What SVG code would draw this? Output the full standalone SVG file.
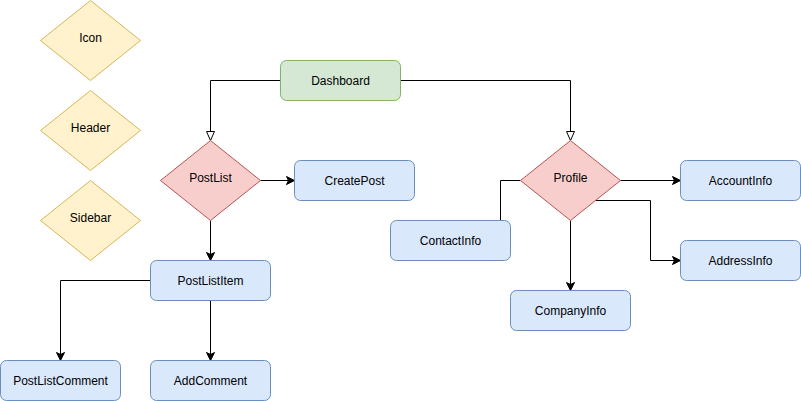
<svg xmlns="http://www.w3.org/2000/svg" width="801" height="401" viewBox="0 0 801 401">
<style>
.y{fill:#fff2cc;stroke:#d6b656}
.g{fill:#d5e8d4;stroke:#82b366}
.r{fill:#f8cecc;stroke:#b85450}
.b{fill:#dae8fc;stroke:#6c8ebf}
text{font-family:"Liberation Sans",Arial,sans-serif;font-size:12px;fill:#000;text-anchor:middle}
.c{fill:none;stroke:#000;stroke-width:1}
</style>
<defs>
<marker id="cl" markerUnits="userSpaceOnUse" markerWidth="10" markerHeight="10" refX="8" refY="4" orient="auto" overflow="visible">
<path d="M0,0 L8,4 L0,8 L2,4 Z" fill="#000" stroke="#000" stroke-width="1"/>
</marker>
<marker id="op" markerUnits="userSpaceOnUse" markerWidth="10" markerHeight="10" refX="9" refY="4" orient="auto" overflow="visible">
<path d="M0,0 L9,4 L0,8 Z" fill="#fff" stroke="#000" stroke-width="1"/>
</marker>
</defs>
<rect width="801" height="401" fill="#fff"/>
<g id="connectors">
<path class="c" d="M280.5,80.5 H210.5 V140.5" marker-end="url(#op)"/>
<path class="c" d="M400.5,80.5 H570.5 V140.5" marker-end="url(#op)"/>
<path class="c" d="M260.5,180.5 H294.5" marker-end="url(#cl)"/>
<path class="c" d="M210.5,220.5 V260.5" marker-end="url(#cl)"/>
<path class="c" d="M150.5,280.5 H60.5 V360.5" marker-end="url(#cl)"/>
<path class="c" d="M210.5,300.5 V360.5" marker-end="url(#cl)"/>
<path class="c" d="M620.5,180.5 H680.5" marker-end="url(#cl)"/>
<path class="c" d="M595.5,200.5 H650.5 V260.5 H680.5" marker-end="url(#cl)"/>
<path class="c" d="M520.5,180.5 H500.5 V220.5"/>
<path class="c" d="M570.5,220.5 V290.5" marker-end="url(#cl)"/>
</g>
<g id="icon"><path class="y" d="M90.5,0.5 L140.5,40.5 L90.5,80.5 L40.5,40.5 Z"/><text x="90.5" y="42">Icon</text></g>
<g id="header"><path class="y" d="M90.5,90.5 L140.5,130.5 L90.5,170.5 L40.5,130.5 Z"/><text x="90.5" y="132">Header</text></g>
<g id="sidebar"><path class="y" d="M90.5,180.5 L140.5,220.5 L90.5,260.5 L40.5,220.5 Z"/><text x="90.5" y="222">Sidebar</text></g>
<g id="dashboard"><rect class="g" x="280.5" y="60.5" width="120" height="40" rx="6"/><text x="340.5" y="84.5">Dashboard</text></g>
<g id="postlist"><path class="r" d="M210.5,140.5 L260.5,180.5 L210.5,220.5 L160.5,180.5 Z"/><text x="210.5" y="182">PostList</text></g>
<g id="createpost"><rect class="b" x="294.5" y="160.5" width="120" height="40" rx="6"/><text x="354.5" y="184.5">CreatePost</text></g>
<g id="postlistitem"><rect class="b" x="150.5" y="260.5" width="120" height="40" rx="6"/><text x="210.5" y="284.5">PostListItem</text></g>
<g id="postlistcomment"><rect class="b" x="0.5" y="360.5" width="120" height="40" rx="6"/><text x="60.5" y="384.5">PostListComment</text></g>
<g id="addcomment"><rect class="b" x="150.5" y="360.5" width="120" height="40" rx="6"/><text x="210.5" y="384.5">AddComment</text></g>
<g id="profile"><path class="r" d="M570.5,140.5 L620.5,180.5 L570.5,220.5 L520.5,180.5 Z"/><text x="570.5" y="182">Profile</text></g>
<g id="accountinfo"><rect class="b" x="680.5" y="160.5" width="120" height="40" rx="6"/><text x="740.5" y="184.5">AccountInfo</text></g>
<g id="addressinfo"><rect class="b" x="680.5" y="240.5" width="120" height="40" rx="6"/><text x="740.5" y="264.5">AddressInfo</text></g>
<g id="contactinfo"><rect class="b" x="390.5" y="220.5" width="120" height="40" rx="6"/><text x="450.5" y="244.5">ContactInfo</text></g>
<g id="companyinfo"><rect class="b" x="510.5" y="290.5" width="120" height="40" rx="6"/><text x="570.5" y="314.5">CompanyInfo</text></g>
</svg>
